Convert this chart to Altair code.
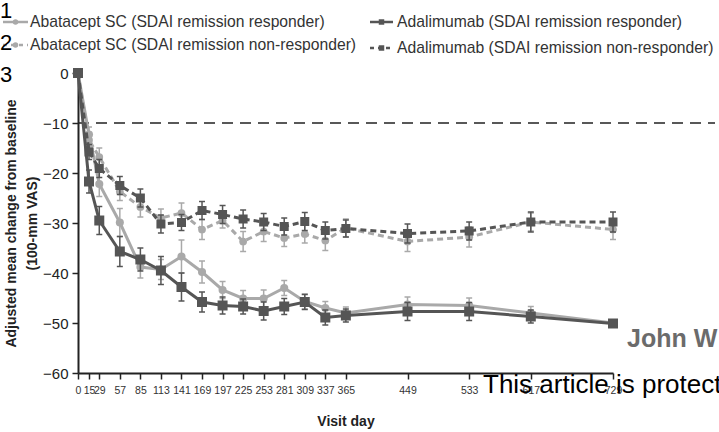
import altair as alt
import pandas as pd

FONT = "Liberation Sans"

days = [0, 15, 29, 57, 85, 113, 141, 169, 197, 225, 253, 281, 309, 337, 365, 449, 533, 617, 729]

aba_resp = [0, -12.3, -22.2, -29.9, -38.8, -39.3, -36.7, -39.8, -43.4, -45.1, -45.1, -43.0, -45.7, -47.0, -48.0, -46.3, -46.5, -48.0, -50.0]
aba_resp_se = [0, 1.5, 2.5, 2.8, 2.2, 2.0, 3.3, 2.2, 1.7, 1.6, 1.7, 1.5, 1.5, 1.3, 1.2, 1.5, 1.5, 1.3, 0]

aba_non = [0, -13.4, -16.8, -23.7, -26.8, -29.0, -28.0, -31.3, -29.5, -33.7, -31.7, -33.0, -32.2, -33.5, -31.0, -33.7, -32.8, -29.8, -31.3]
aba_non_se = [0, 1.5, 1.8, 1.8, 2.0, 1.8, 2.0, 2.0, 1.5, 2.0, 2.0, 1.7, 1.8, 2.0, 1.8, 2.0, 2.0, 1.8, 2.0]

ada_resp = [0, -21.7, -29.5, -35.7, -37.3, -39.5, -42.8, -45.8, -46.5, -46.7, -47.6, -46.7, -45.8, -48.9, -48.5, -47.7, -47.7, -48.7, -50.1]
ada_resp_se = [0, 2.3, 2.8, 3.0, 2.3, 2.8, 2.8, 2.0, 1.7, 1.5, 1.8, 1.6, 1.5, 1.5, 1.3, 1.8, 1.8, 1.3, 0]

ada_non = [0, -15.8, -19.1, -22.5, -25.0, -30.2, -29.9, -27.5, -28.3, -29.2, -29.8, -30.7, -29.7, -31.5, -31.1, -32.1, -31.6, -29.8, -29.8]
ada_non_se = [0, 1.5, 1.8, 1.8, 1.8, 1.8, 1.6, 1.8, 1.8, 1.8, 1.7, 1.7, 1.8, 1.7, 1.7, 1.9, 1.8, 2.0, 2.0]

series_names = [
    "Abatacept SC (SDAI remission responder)",
    "Abatacept SC (SDAI remission non-responder)",
    "Adalimumab (SDAI remission responder)",
    "Adalimumab (SDAI remission non-responder)",
]

LIGHT = "#a9a9a9"
DARK = "#555555"

# (values, se, color, dashed, shape, size)
series = [
    (aba_non, aba_non_se, LIGHT, True, "circle", 60),
    (aba_resp, aba_resp_se, LIGHT, False, "circle", 65),
    (ada_non, ada_non_se, DARK, True, "square", 81),
    (ada_resp, ada_resp_se, DARK, False, "square", 100),
]

xscale = alt.Scale(domain=[0, 729], nice=False, zero=False)
yscale = alt.Scale(domain=[-60, 0], nice=False)

xaxis = alt.Axis(
    values=days, title="Visit day", labelFontSize=10.5, labelColor="#333", labelFont=FONT,
    labelAngle=0, labelOverlap=False, labelFlush=False, labelPadding=6, tickSize=6,
    tickColor="#222", tickWidth=1.5, domainColor="#222", domainWidth=2, grid=False,
    titleFontSize=14, titleFont=FONT, titleFontWeight="bold", titleColor="#222", titlePadding=19,
)
yaxis = alt.Axis(
    values=[0, -10, -20, -30, -40, -50, -60],
    title=["Adjusted mean change from baseline", "(100-mm VAS)"],
    labelFontSize=15, labelColor="#222", labelFont=FONT, labelPadding=4, tickSize=6,
    tickColor="#222", tickWidth=1.5, domainColor="#222", domainWidth=2, grid=False,
    titleFontSize=14, titleFont=FONT, titleFontWeight="bold", titleColor="#222",
    titlePadding=3, titleLineHeight=21,
)

X = alt.X("day:Q", scale=xscale, axis=xaxis)

layers = []

dummy = pd.DataFrame({"k": [0]})

# reference line at -10
layers.append(
    alt.Chart(dummy).mark_rule(strokeDash=[11, 7], color="#222", strokeWidth=1.3).encode(
        x=alt.X(datum=0, type="quantitative", scale=xscale, axis=xaxis),
        x2=alt.X2(datum=868),
        y=alt.Y(datum=-10, type="quantitative", scale=yscale, axis=yaxis),
    )
)

for vals, se, color, dashed, shape, size in series:
    df = pd.DataFrame({"day": days, "val": vals, "se": se})
    df["lo"] = df["val"] - df["se"]
    df["hi"] = df["val"] + df["se"]
    base = alt.Chart(df)
    Y = alt.Y("val:Q", scale=yscale, axis=yaxis)
    line_kw = dict(color=color, strokeWidth=3)
    if dashed:
        line_kw["strokeDash"] = [6, 4]
    layers.append(base.mark_line(**line_kw).encode(x=X, y=Y))
    eb = base.transform_filter("datum.se > 0")
    layers.append(
        eb.mark_rule(color=color, strokeWidth=1.5).encode(
            x=X, y=alt.Y("lo:Q", scale=yscale, axis=yaxis), y2="hi:Q"
        )
    )
    for f in ["lo", "hi"]:
        layers.append(
            eb.mark_tick(orient="horizontal", size=6, thickness=1.5, color=color, opacity=1).encode(
                x=X, y=alt.Y(f + ":Q", scale=yscale, axis=yaxis)
            )
        )
    layers.append(
        base.mark_point(filled=True, shape=shape, size=size, color=color, opacity=1).encode(x=X, y=Y)
    )

# manual legend (pixel offsets relative to plot origin at 78, 73)
OX, OY = 78, 73
legend_items = [
    (series_names[0], LIGHT, False, "circle", 3, 28, 22, 30),
    (series_names[1], LIGHT, True, "circle", 3, 28, 45, 30),
    (series_names[2], DARK, False, "square", 370, 393, 22, 397),
    (series_names[3], DARK, True, "square", 370, 393, 48, 397),
]
for name, color, dashed, shape, x1, x2, y, tx in legend_items:
    kw = dict(color=color, strokeWidth=2.5)
    if dashed:
        kw["strokeDash"] = [4, 4]
    layers.append(
        alt.Chart(dummy).mark_rule(**kw).encode(
            x=alt.value(x1 - OX), x2=alt.value(x2 - OX), y=alt.value(y - OY)
        )
    )
    layers.append(
        alt.Chart(dummy).mark_point(filled=True, shape=shape, size=30, color=color, opacity=1).encode(
            x=alt.value((x1 + x2) / 2 - OX), y=alt.value(y - OY)
        )
    )
    layers.append(
        alt.Chart(dummy).mark_text(text=name, fontSize=15.7, font=FONT, color="#333", align="left", baseline="middle").encode(
            x=alt.value(tx - OX), y=alt.value(y - OY)
        )
    )

# overlaid stray texts present in the source image
def txt(s, x, y, size, color="#000", weight="normal"):
    return alt.Chart(dummy).mark_text(
        text=s, fontSize=size, font=FONT, color=color, fontWeight=weight,
        align="left", baseline="alphabetic"
    ).encode(x=alt.value(x - OX), y=alt.value(y - OY))

layers.append(txt("1", 0, 18, 22))
layers.append(txt("2", 0, 50, 22))
layers.append(txt("3", 0, 82, 22))
layers.append(txt("John W", 627, 347, 25, color="#6b6b6b", weight="bold"))
layers.append(txt("This article is protected", 483, 393, 26))

chart = alt.layer(*layers).properties(
    width=535,
    height=300,
    padding={"left": 78, "top": 73, "right": 106, "bottom": 59},
    autosize=alt.AutoSizeParams(type="none"),
    background="white",
).configure_view(stroke=None)

chart.save("out.html", embed_options={"renderer": "svg", "actions": False})
